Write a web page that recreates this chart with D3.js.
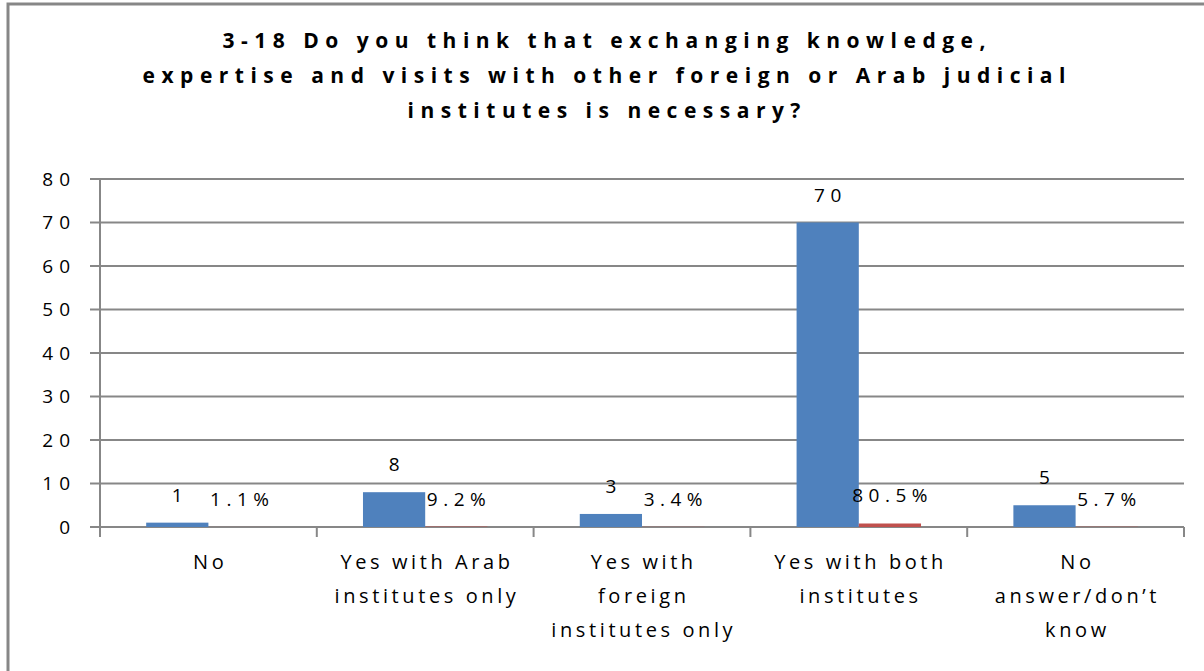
<!DOCTYPE html>
<html>
<head>
<meta charset="utf-8">
<script src="https://cdn.jsdelivr.net/npm/d3@7"></script>
<style>
  html, body { margin: 0; padding: 0; background: #fff; }
  svg { display: block; }
  text { font-family: "Open Sans", "Noto Sans", sans-serif; fill: #000; }
</style>
</head>
<body>
<svg id="chart" width="1204" height="671"></svg>
<script>
// Survey question 3-18: answers as counts and as share of respondents
const titleLines = [
  "3-18 Do you think that exchanging knowledge,",
  "expertise and visits with other foreign or Arab judicial",
  "institutes is necessary?"
];
const categories = [
  ["No"],
  ["Yes with Arab", "institutes only"],
  ["Yes with", "foreign", "institutes only"],
  ["Yes with both", "institutes"],
  ["No", "answer/don\u2019t", "know"]
];
const counts = [1, 8, 3, 70, 5];
const shares = [0.011, 0.092, 0.034, 0.805, 0.057];
const yTicks = [0, 10, 20, 30, 40, 50, 60, 70, 80];

const seriesNames = ["count", "share"];
const seriesColors = { count: "#4F81BD", share: "#C0504D" };

const svg = d3.select("#chart");

// chart frame
svg.append("rect")
  .attr("x", 8).attr("y", 4)
  .attr("width", 1204).attr("height", 700)
  .attr("fill", "#fff")
  .attr("stroke", "#878787")
  .attr("stroke-width", 3);

// title
const titleSpacing = 6.5;
const title = svg.append("text")
  .attr("text-anchor", "middle")
  .style("font-weight", "700")
  .style("font-size", "21px")
  .style("letter-spacing", titleSpacing + "px");
titleLines.forEach((line, i) => {
  title.append("tspan")
    .attr("x", 604 + titleSpacing / 2)
    .attr("y", 48 + i * 35)
    .text(line);
});

const plot = { left: 100, right: 1184, top: 179, bottom: 527 };

const x = d3.scaleBand()
  .domain(d3.range(categories.length))
  .range([plot.left, plot.right])
  .paddingInner(0).paddingOuter(0);

const bw = x.bandwidth();
const xSub = d3.scaleBand()
  .domain(seriesNames)
  .range([bw * 0.213, bw * 0.787]);

const y = d3.scaleLinear().domain([0, 80]).range([plot.bottom, plot.top]);

const gridColor = "#878787";

// horizontal gridlines with left tick marks
svg.append("g")
  .selectAll("line")
  .data(yTicks)
  .join("line")
  .attr("x1", plot.left - 10).attr("x2", plot.right)
  .attr("y1", d => y(d)).attr("y2", d => y(d))
  .attr("stroke", gridColor).attr("stroke-width", 2);

// y axis line
svg.append("line")
  .attr("x1", plot.left).attr("x2", plot.left)
  .attr("y1", plot.top).attr("y2", plot.bottom + 10)
  .attr("stroke", gridColor).attr("stroke-width", 2);

// category boundary ticks
svg.append("g")
  .selectAll("line")
  .data(d3.range(categories.length + 1))
  .join("line")
  .attr("x1", d => plot.left + d * bw).attr("x2", d => plot.left + d * bw)
  .attr("y1", plot.bottom).attr("y2", plot.bottom + 10)
  .attr("stroke", gridColor).attr("stroke-width", 2);

// y tick labels
const tickSpacing = 6;
svg.append("g")
  .selectAll("text")
  .data(yTicks)
  .join("text")
  .attr("x", 70 + tickSpacing)
  .attr("y", d => y(d))
  .attr("dy", "0.36em")
  .attr("text-anchor", "end")
  .style("font-size", "19px")
  .style("letter-spacing", tickSpacing + "px")
  .text(d => d);

// bars
const rows = categories.map((c, i) => ({ i, count: counts[i], share: shares[i] }));
const groups = svg.append("g")
  .selectAll("g")
  .data(rows)
  .join("g")
  .attr("transform", d => `translate(${x(d.i)},0)`);

seriesNames.forEach(s => {
  groups.append("rect")
    .attr("x", xSub(s))
    .attr("width", xSub.bandwidth())
    .attr("y", d => y(d[s]))
    .attr("height", d => y(0) - y(d[s]))
    .attr("fill", seriesColors[s]);
});

// value labels
const labelSpacing = 5.5;
const fmtPct = d3.format(".1%");
groups.append("text")
  .attr("x", xSub("count") + xSub.bandwidth() / 2 + labelSpacing / 2)
  .attr("y", d => y(d.count) - 21)
  .attr("text-anchor", "middle")
  .style("font-size", "19px")
  .style("letter-spacing", labelSpacing + "px")
  .text(d => d.count);
groups.append("text")
  .attr("x", xSub("share") + xSub.bandwidth() / 2 + labelSpacing / 2)
  .attr("y", d => y(d.share) - 21)
  .attr("text-anchor", "middle")
  .style("font-size", "19px")
  .style("letter-spacing", labelSpacing + "px")
  .text(d => fmtPct(d.share));

// category labels
const catSpacing = 3.6;
const catLabels = svg.append("g")
  .selectAll("text")
  .data(categories)
  .join("text")
  .attr("text-anchor", "middle")
  .style("font-size", "20px")
  .style("letter-spacing", catSpacing + "px");
catLabels.each(function(lines, i) {
  const t = d3.select(this);
  lines.forEach((line, j) => {
    t.append("tspan")
      .attr("x", x(i) + bw / 2 + catSpacing / 2)
      .attr("y", 569 + j * 34)
      .text(line);
  });
});
</script>
</body>
</html>
